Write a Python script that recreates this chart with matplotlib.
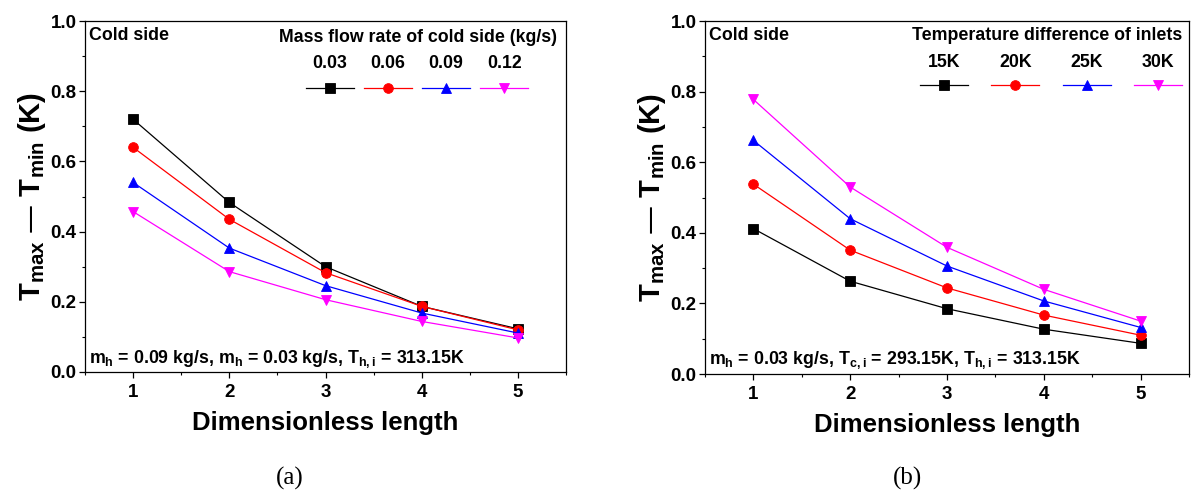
import matplotlib
matplotlib.use('Agg')
import matplotlib.pyplot as plt
from matplotlib.ticker import MultipleLocator

# data
length = [1, 2, 3, 4, 5]

flow_labels = ['0.03', '0.06', '0.09', '0.12']
flow_003 = [0.720, 0.483, 0.300, 0.187, 0.123]
flow_006 = [0.640, 0.435, 0.283, 0.187, 0.120]
flow_009 = [0.540, 0.353, 0.246, 0.168, 0.111]
flow_012 = [0.457, 0.286, 0.206, 0.144, 0.097]

dt_labels = ['15K', '20K', '25K', '30K']
dt_15 = [0.412, 0.263, 0.185, 0.127, 0.087]
dt_20 = [0.538, 0.351, 0.244, 0.167, 0.110]
dt_25 = [0.662, 0.440, 0.306, 0.207, 0.132]
dt_30 = [0.778, 0.530, 0.359, 0.240, 0.150]

colors = ['black', '#ff0000', '#0000ff', '#ff00ff']
markers = ['s', 'o', '^', 'v']

plt.rcParams['font.family'] = ['Liberation Sans', 'DejaVu Sans']
plt.rcParams['font.weight'] = 'bold'
plt.rcParams['axes.labelweight'] = 'bold'
plt.rcParams['mathtext.default'] = 'regular'

fig = plt.figure(figsize=(11.91, 4.95), dpi=100)
ax1 = fig.add_axes([0.0714, 0.2485, 0.4039, 0.709])
ax2 = fig.add_axes([0.5919, 0.2444, 0.4064, 0.713])

small = 12.8


def panel(ax, series, labels, title, note, leg_x, leg_y, lab_y, title_xy, colspace):
    lines = []
    for ys, c, m in zip(series, colors, markers):
        ln, = ax.plot(length, ys, color=c, marker=m, markersize=7, lw=0.9,
                      markeredgewidth=0.6)
        lines.append(ln)
    ax.set_xlim(0.5, 5.5)
    ax.set_ylim(0, 1.0)
    ax.xaxis.set_major_locator(MultipleLocator(1))
    ax.xaxis.set_minor_locator(MultipleLocator(0.5))
    ax.yaxis.set_major_locator(MultipleLocator(0.2))
    ax.yaxis.set_minor_locator(MultipleLocator(0.1))
    ax.yaxis.set_major_formatter(matplotlib.ticker.FormatStrFormatter('%.1f'))
    ax.tick_params(which='major', direction='out', length=4.5, width=0.9,
                   labelsize=13.5)
    ax.tick_params(axis='x', which='major', pad=4)
    ax.tick_params(axis='y', which='major', pad=1.5)
    ax.tick_params(which='minor', direction='out', length=2.5, width=0.8)
    for s in ax.spines.values():
        s.set_linewidth(0.9)
    ax.set_xlabel('Dimensionless length', fontsize=18.5, labelpad=7)
    ax.set_ylabel('T$_{max}$ \u2014 T$_{min}$ (K)', fontsize=21, labelpad=2)

    ax.text(0.008, 0.983, 'Cold side', transform=ax.transAxes, fontsize=small,
            ha='left', va='top')
    ax.text(0.008, 0.027, note, transform=ax.transAxes, fontsize=small,
            ha='left', va='baseline')
    ax.text(title_xy[0], title_xy[1], title, transform=ax.transAxes,
            fontsize=small, ha='center', va='center')

    leg = ax.legend(lines, [''] * 4, ncol=4, frameon=False, loc='center',
                    bbox_to_anchor=(leg_x, leg_y), handlelength=2.7,
                    handletextpad=0, columnspacing=colspace,
                    prop={'size': small}, borderpad=0, borderaxespad=0)
    fig.canvas.draw()
    r = fig.canvas.get_renderer()
    inv = ax.transAxes.inverted()
    for h, lab in zip(leg.legend_handles, labels):
        bb = h.get_window_extent(r)
        xc = inv.transform(((bb.x0 + bb.x1) / 2, 0))[0]
        ax.text(xc, lab_y, lab, transform=ax.transAxes, fontsize=small,
                ha='center', va='center')


panel(ax1, [flow_003, flow_006, flow_009, flow_012], flow_labels,
      'Mass flow rate of cold side (kg/s)',
      'm$_h$ = 0.09 kg/s, m$_h$ = 0.03 kg/s, T$_{h,i}$ = 313.15K',
      0.690, 0.803, 0.880, (0.693, 0.954), 0.57)
panel(ax2, [dt_15, dt_20, dt_25, dt_30], dt_labels,
      'Temperature difference of inlets',
      'm$_h$ = 0.03 kg/s, T$_{c,i}$ = 293.15K, T$_{h,i}$ = 313.15K',
      0.715, 0.813, 0.884, (0.707, 0.960), 1.3)

fig.text(290 / 1191, 1 - 478 / 495, '(a)', family='Liberation Serif',
         fontweight='normal', fontsize=18, ha='center', va='center')
fig.text(908 / 1191, 1 - 478 / 495, '(b)', family='Liberation Serif',
         fontweight='normal', fontsize=18, ha='center', va='center')

fig.savefig('out.png', dpi=100)
